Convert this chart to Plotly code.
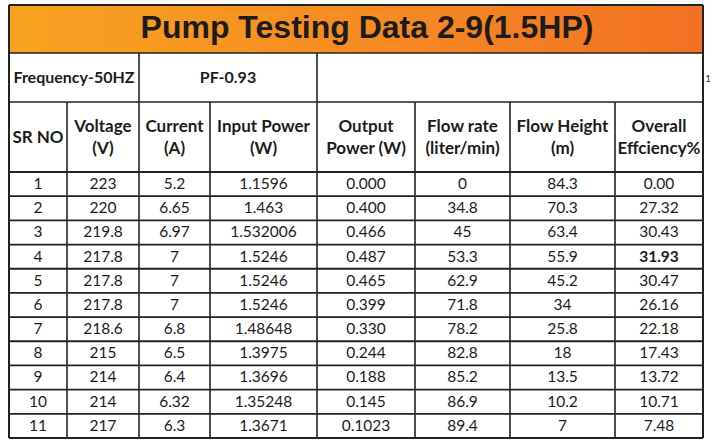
import plotly.graph_objects as go

# ---------------- data ----------------
title = "Pump Testing Data 2-9(1.5HP)"
frequency_label = "Frequency-50HZ"
pf_label = "PF-0.93"
headers = ["SR NO", "Voltage<br>(V)", "Current<br>(A)", "Input Power<br>(W)",
           "Output<br>Power (W)", "Flow rate<br>(liter/min)", "Flow Height<br>(m)",
           "Overall<br>Effciency%"]
sr_no = ["1", "2", "3", "4", "5", "6", "7", "8", "9", "10", "11"]
voltage = ["223", "220", "219.8", "217.8", "217.8", "217.8", "218.6", "215", "214", "214", "217"]
current = ["5.2", "6.65", "6.97", "7", "7", "7", "6.8", "6.5", "6.4", "6.32", "6.3"]
input_power = ["1.1596", "1.463", "1.532006", "1.5246", "1.5246", "1.5246", "1.48648",
               "1.3975", "1.3696", "1.35248", "1.3671"]
output_power = ["0.000", "0.400", "0.466", "0.487", "0.465", "0.399", "0.330", "0.244",
                "0.188", "0.145", "0.1023"]
flow_rate = ["0", "34.8", "45", "53.3", "62.9", "71.8", "78.2", "82.8", "85.2", "86.9", "89.4"]
flow_height = ["84.3", "70.3", "63.4", "55.9", "45.2", "34", "25.8", "18", "13.5", "10.2", "7"]
efficiency = ["0.00", "27.32", "30.43", "31.93", "30.47", "26.16", "22.18", "17.43",
              "13.72", "10.71", "7.48"]
bold_cell = (3, 7)  # row index, column index shown in bold

columns = [sr_no, voltage, current, input_power, output_power, flow_rate, flow_height, efficiency]

# ---------------- layout geometry ----------------
W, H = 715, 448
col_edges = [9, 67, 139, 210, 317, 415, 510, 615, 703]
y_top, y_title, y_info, y_head, y_bottom = 5, 53, 102, 172, 438
n_rows = len(sr_no)
row_h = (y_bottom - y_head) / n_rows

FONT = "Lato"
DARK = "#1c1c1c"
LINE = "#222222"

fig = go.Figure()

# title band with horizontal gradient
fig.add_trace(go.Scatter(
    x=[col_edges[0], col_edges[-1], col_edges[-1], col_edges[0], col_edges[0]],
    y=[y_top, y_top, y_title, y_title, y_top],
    mode="lines", fill="toself", line=dict(width=0),
    fillgradient=dict(type="horizontal",
                      colorscale=[[0, "#F8A320"], [0.5, "#F68C22"], [1, "#F27124"]]),
    hoverinfo="skip", showlegend=False))

centers = [(col_edges[i] + col_edges[i + 1]) / 2 for i in range(len(col_edges) - 1)]

# data cells
for ci, col in enumerate(columns):
    texts = []
    for ri, v in enumerate(col):
        texts.append(f"<b>{v}</b>" if (ri, ci) == bold_cell else v)
    fig.add_trace(go.Scatter(
        x=[centers[ci]] * n_rows,
        y=[y_head + row_h * (ri + 0.5) + 1 for ri in range(n_rows)],
        mode="text", text=texts, textposition="middle center",
        textfont=dict(family=FONT, size=15.5, color=DARK),
        hoverinfo="skip", showlegend=False))

# headers
fig.add_trace(go.Scatter(
    x=centers, y=[(y_info + y_head) / 2 + 2] * len(headers),
    mode="text", text=[f"<b>{h}</b>" for h in headers], textposition="middle center",
    textfont=dict(family=FONT, size=17, color=DARK),
    hoverinfo="skip", showlegend=False))

# info row
fig.add_trace(go.Scatter(
    x=[(col_edges[0] + col_edges[2]) / 2, (col_edges[2] + col_edges[4]) / 2],
    y=[(y_title + y_info) / 2 + 1] * 2,
    mode="text", text=[f"<b>{frequency_label}</b>", f"<b>{pf_label}</b>"],
    textposition="middle center",
    textfont=dict(family=FONT, size=16, color=DARK),
    hoverinfo="skip", showlegend=False))

# title
fig.add_trace(go.Scatter(
    x=[(col_edges[0] + col_edges[-1]) / 2 + 11], y=[(y_top + y_title) / 2 + 1],
    mode="text", text=[f"<b>{title}</b>"], textposition="middle center",
    textfont=dict(family="Liberation Sans", size=32, color=DARK),
    hoverinfo="skip", showlegend=False))

# stray "1" beside the table
fig.add_trace(go.Scatter(
    x=[708], y=[80], mode="text", text=["1"], textposition="middle center",
    textfont=dict(family=FONT, size=9, color=DARK),
    hoverinfo="skip", showlegend=False))

shapes = []
def hline(y, x0, x1, w=2):
    shapes.append(dict(type="line", x0=x0, x1=x1, y0=y, y1=y, line=dict(color=LINE, width=w)))
def vline(x, y0, y1, w=1.6):
    shapes.append(dict(type="line", x0=x, x1=x, y0=y0, y1=y1, line=dict(color=LINE, width=w)))

# outer border
hline(y_top, col_edges[0], col_edges[-1], 2)
hline(y_bottom, col_edges[0], col_edges[-1], 2)
vline(col_edges[0], y_top, y_bottom, 2)
vline(col_edges[-1], y_top, y_bottom, 2)
# horizontal separators
hline(y_title, col_edges[0], col_edges[-1], 1.6)
hline(y_info, col_edges[0], col_edges[-1], 1.6)
for r in range(n_rows):
    hline(y_head + row_h * r, col_edges[0], col_edges[-1], 2 if r == 0 else 1.8)
# info row separators
vline(col_edges[2], y_title, y_info)
vline(col_edges[4], y_title, y_info)
# column separators
for x in col_edges[1:-1]:
    vline(x, y_info, y_bottom)

fig.update_layout(
    width=W, height=H, margin=dict(l=0, r=0, t=0, b=0),
    paper_bgcolor="white", plot_bgcolor="white",
    xaxis=dict(range=[0, W], visible=False, fixedrange=True),
    yaxis=dict(range=[H, 0], visible=False, fixedrange=True),
    shapes=shapes, showlegend=False)

fig.write_html("out.html",
               post_script="document.body.style.margin='0';document.body.style.overflow='hidden';",
               config={"displayModeBar": False})
